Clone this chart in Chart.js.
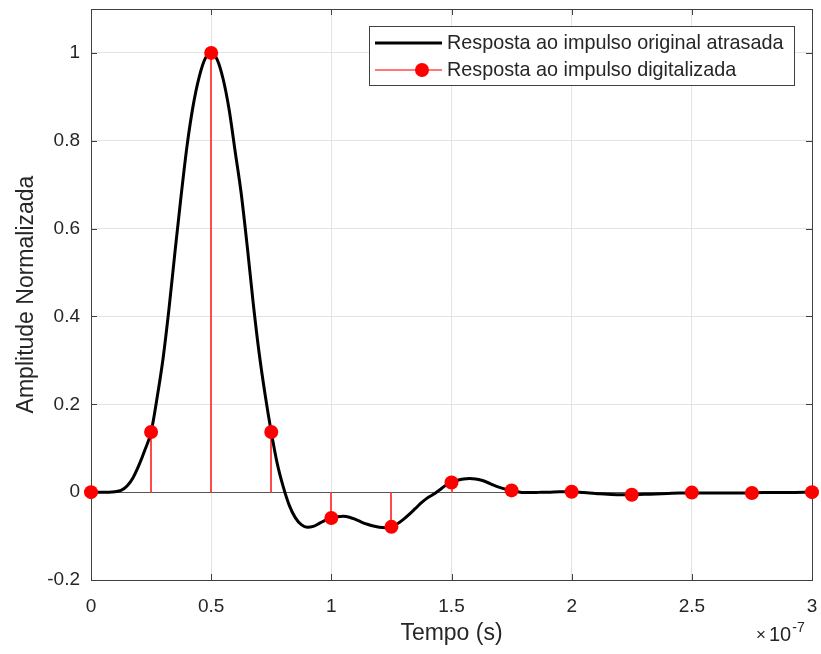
<!DOCTYPE html>
<html>
<head>
<meta charset="utf-8">
<script src="https://cdn.jsdelivr.net/npm/chart.js@4.4.1/dist/chart.umd.min.js"></script>
<style>
  body { margin: 0; background: #fff; }
  #wrap { width: 821px; height: 654px; }
</style>
</head>
<body>
<div id="wrap"><canvas id="chart" width="821" height="654"></canvas></div>
<script>
// time in units of 1e-7 s
const curveT = [0, 0.025, 0.05, 0.075, 0.1, 0.125, 0.15, 0.175, 0.2, 0.225, 0.25, 0.275, 0.3, 0.325, 0.35, 0.375, 0.4, 0.425, 0.45, 0.475,
  0.5, 0.525, 0.55, 0.575, 0.6, 0.625, 0.65, 0.675, 0.7, 0.725, 0.75, 0.775, 0.8, 0.825, 0.85, 0.875, 0.9, 0.925, 0.95, 0.975,
  1.0, 1.025, 1.05, 1.075, 1.1, 1.125, 1.15, 1.175, 1.2, 1.225, 1.25, 1.275, 1.3, 1.325, 1.35, 1.375, 1.4, 1.425, 1.45, 1.475,
  1.5, 1.525, 1.55, 1.575, 1.6, 1.625, 1.65, 1.675, 1.7, 1.725, 1.75, 1.775, 1.8, 1.825, 1.85, 1.875, 1.9, 1.95,
  2.0, 2.05, 2.1, 2.15, 2.2, 2.25, 2.3, 2.35, 2.4, 2.45, 2.5, 2.6, 2.7, 2.8, 2.9, 3.0];
const curveV = [0, 0, 0, 0, 0.001, 0.004, 0.014, 0.033, 0.062, 0.097, 0.137, 0.215, 0.305, 0.42, 0.55, 0.675, 0.79, 0.88, 0.945, 0.987,
  1.0, 0.985, 0.94, 0.87, 0.775, 0.68, 0.56, 0.43, 0.315, 0.22, 0.137, 0.065, 0.012, -0.03, -0.058, -0.074, -0.08, -0.078, -0.071, -0.064,
  -0.059, -0.056, -0.055, -0.057, -0.062, -0.068, -0.073, -0.077, -0.08, -0.081, -0.079, -0.072, -0.062, -0.05, -0.037, -0.024, -0.013, -0.005, 0.005, 0.015,
  0.022, 0.027, 0.03, 0.031, 0.03, 0.027, 0.022, 0.016, 0.011, 0.007, 0.004, 0.001, -0.001, -0.001, -0.001, 0, 0, 0.001,
  0.001, -0.001, -0.003, -0.005, -0.006, -0.006, -0.005, -0.004, -0.003, -0.002, -0.002, -0.002, -0.002, -0.001, -0.001, 0];

const sampleT = [0, 0.25, 0.5, 0.75, 1.0, 1.25, 1.5, 1.75, 2.0, 2.25, 2.5, 2.75, 3.0];
const sampleV = [0, 0.137, 1.0, 0.137, -0.059, -0.079, 0.022, 0.004, 0.001, -0.006, -0.001, -0.002, 0];

const xTicks = [0, 0.5, 1, 1.5, 2, 2.5, 3];
const xTickLabels = ['0', '0.5', '1', '1.5', '2', '2.5', '3'];
const yTicks = [-0.2, 0, 0.2, 0.4, 0.6, 0.8, 1];
const yTickLabels = ['-0.2', '0', '0.2', '0.4', '0.6', '0.8', '1'];

const seriesNames = ['Resposta ao impulso original atrasada', 'Resposta ao impulso digitalizada'];

const FONT = "'Liberation Sans', Arial, Helvetica, sans-serif";
const TEXT = '#262626';
const AXIS = '#404040';
const STEM = '#ff4a4a';

function noEdgePadding(s) {
  s.paddingLeft = 0; s.paddingRight = 0; s.paddingTop = 0; s.paddingBottom = 0;
}

const matlabLook = {
  id: 'matlabLook',
  beforeDatasetsDraw(chart) {
    const ctx = chart.ctx;
    const { left, right, top, bottom } = chart.chartArea;
    const xs = chart.scales.x, ys = chart.scales.y;
    ctx.save();
    // box + inward ticks
    ctx.strokeStyle = AXIS;
    ctx.lineWidth = 1;
    ctx.strokeRect(Math.round(left) + 0.5, Math.round(top) + 0.5, Math.round(right - left), Math.round(bottom - top));
    ctx.beginPath();
    xTicks.forEach(v => {
      const px = Math.round(xs.getPixelForValue(v)) + 0.5;
      ctx.moveTo(px, bottom); ctx.lineTo(px, bottom - 6);
      ctx.moveTo(px, top); ctx.lineTo(px, top + 6);
    });
    yTicks.forEach(v => {
      const py = Math.round(ys.getPixelForValue(v)) + 0.5;
      ctx.moveTo(left, py); ctx.lineTo(left + 6, py);
      ctx.moveTo(right, py); ctx.lineTo(right - 6, py);
    });
    ctx.stroke();
    // stem baseline
    const y0 = Math.round(ys.getPixelForValue(0)) + 0.5;
    ctx.beginPath();
    ctx.moveTo(left, y0); ctx.lineTo(right, y0);
    ctx.strokeStyle = '#555';
    ctx.stroke();
    // stems
    ctx.strokeStyle = STEM;
    ctx.lineWidth = 2;
    ctx.beginPath();
    sampleT.forEach((t, i) => {
      const px = Math.round(xs.getPixelForValue(t));
      ctx.moveTo(px, y0);
      ctx.lineTo(px, ys.getPixelForValue(sampleV[i]));
    });
    ctx.stroke();
    ctx.restore();
  },
  afterDraw(chart) {
    const ctx = chart.ctx;
    const { left, right, top, bottom } = chart.chartArea;
    ctx.save();
    ctx.fillStyle = TEXT;
    // axis titles
    ctx.font = '23px ' + FONT;
    ctx.textAlign = 'center';
    ctx.textBaseline = 'alphabetic';
    ctx.fillText('Tempo (s)', (left + right) / 2, 640);
    ctx.save();
    ctx.translate(33, (top + bottom) / 2);
    ctx.rotate(-Math.PI / 2);
    ctx.fillText('Amplitude Normalizada', 0, 0);
    ctx.restore();
    // exponent
    ctx.textAlign = 'left';
    ctx.font = '17px ' + FONT;
    ctx.fillText('\u00d7', 756, 640);
    ctx.font = '20px ' + FONT;
    ctx.fillText('10', 769, 641);
    const w10 = ctx.measureText('10').width;
    ctx.font = '14px ' + FONT;
    ctx.fillText('-7', 769 + w10 + 1, 632);
    // legend
    const lx = right - 443, ly = top + 17, lw = 425, lh = 59;
    ctx.fillStyle = '#fff';
    ctx.fillRect(lx, ly, lw, lh);
    ctx.strokeStyle = AXIS;
    ctx.lineWidth = 1;
    ctx.strokeRect(Math.round(lx) + 0.5, Math.round(ly) + 0.5, lw, lh);
    const r1 = ly + 17, r2 = ly + 44;
    ctx.beginPath();
    ctx.strokeStyle = '#000';
    ctx.lineWidth = 3;
    ctx.moveTo(lx + 6, r1); ctx.lineTo(lx + 73, r1);
    ctx.stroke();
    ctx.beginPath();
    ctx.strokeStyle = STEM;
    ctx.lineWidth = 1.5;
    ctx.moveTo(lx + 6, r2); ctx.lineTo(lx + 73, r2);
    ctx.stroke();
    ctx.beginPath();
    ctx.fillStyle = '#ff0000';
    ctx.arc(lx + 53, r2, 7, 0, Math.PI * 2);
    ctx.fill();
    ctx.fillStyle = TEXT;
    ctx.font = '19.8px ' + FONT;
    ctx.textBaseline = 'middle';
    ctx.fillText(seriesNames[0], lx + 78, r1 + 1);
    ctx.fillText(seriesNames[1], lx + 78, r2 + 1);
    ctx.restore();
  }
};

new Chart(document.getElementById('chart'), {
  type: 'line',
  data: {
    datasets: [
      {
        label: seriesNames[1],
        data: sampleT.map((t, i) => ({ x: t, y: sampleV[i] })),
        showLine: false,
        pointRadius: 7,
        pointHoverRadius: 7,
        pointBackgroundColor: '#ff0000',
        pointBorderWidth: 0,
        clip: 10
      },
      {
        label: seriesNames[0],
        data: curveT.map((t, i) => ({ x: t, y: curveV[i] })),
        borderColor: '#000',
        borderWidth: 3,
        pointRadius: 0,
        cubicInterpolationMode: 'monotone',
        fill: false
      }
    ]
  },
  options: {
    responsive: false,
    animation: false,
    layout: { padding: { left: 0, top: 9, right: 9, bottom: 0 } },
    plugins: { legend: { display: false }, tooltip: { enabled: false } },
    scales: {
      x: {
        type: 'linear',
        min: 0,
        max: 3,
        afterBuildTicks: s => { s.ticks = xTicks.map(v => ({ value: v })); },
        afterFit: s => { s.height = 74; noEdgePadding(s); },
        grid: { color: '#e3e3e3', drawTicks: false },
        border: { display: false },
        ticks: {
          padding: 15,
          color: TEXT,
          font: { family: FONT, size: 19 },
          maxRotation: 0,
          callback: (v, i) => xTickLabels[i]
        }
      },
      y: {
        type: 'linear',
        min: -0.2,
        max: 1.1,
        afterBuildTicks: s => { s.ticks = yTicks.map(v => ({ value: v })); },
        afterFit: s => { s.width = 91; noEdgePadding(s); },
        grid: { color: '#e3e3e3', drawTicks: false },
        border: { display: false },
        ticks: {
          padding: 11,
          color: TEXT,
          font: { family: FONT, size: 19 },
          callback: (v, i) => yTickLabels[i]
        }
      }
    }
  },
  plugins: [matlabLook]
});
</script>
</body>
</html>
